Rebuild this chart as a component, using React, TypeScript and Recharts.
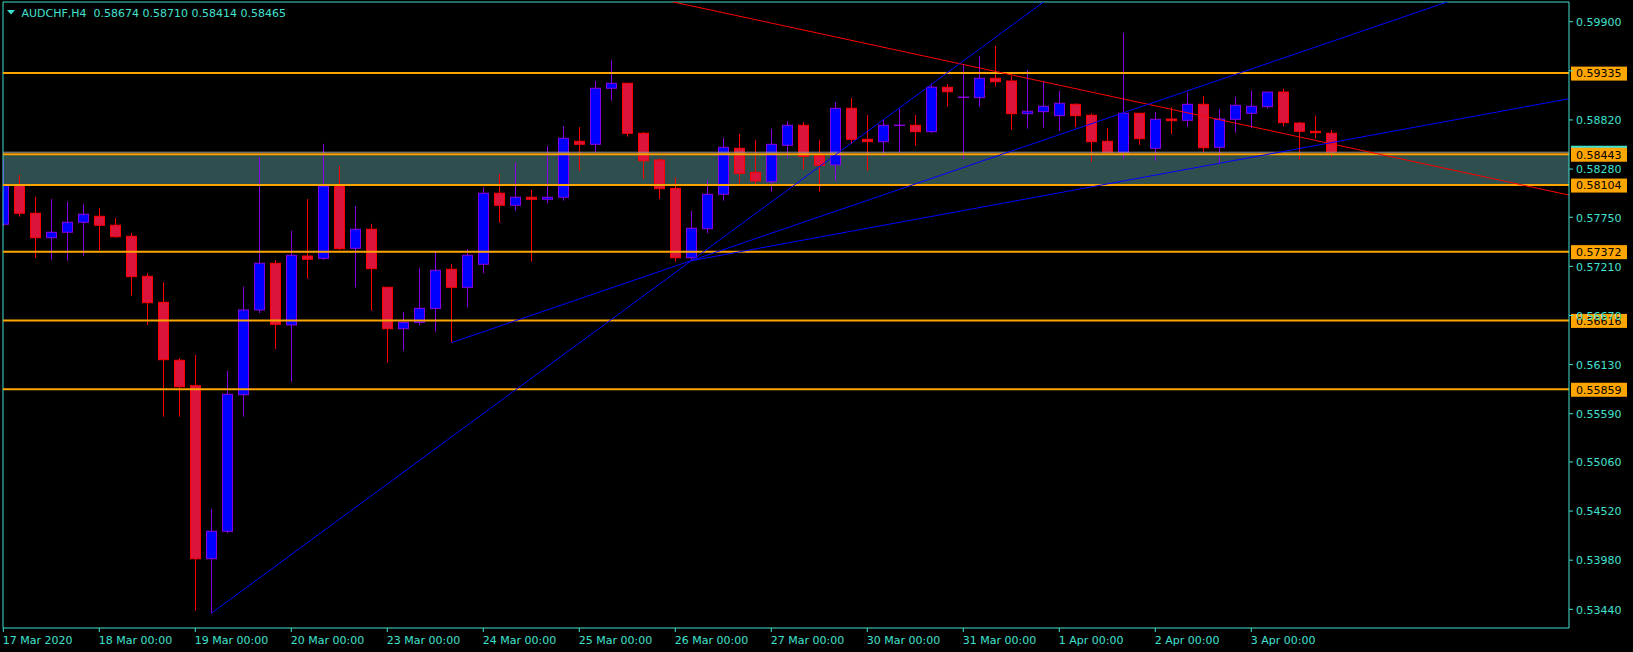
import React from "react";
import {
  ComposedChart,
  Bar,
  XAxis,
  YAxis,
  ReferenceLine,
  ReferenceArea,
} from "recharts";

const CYAN = "#40E0D0";
const ORANGE = "#FFA500";
const FONT = "DejaVu Sans";

// AUDCHF H4, 17 Mar 2020 00:00 .. 3 Apr 2020 20:00 (one entry per bar)
const opens = [
  0.57673, 0.58105, 0.57794, 0.57525, 0.57585, 0.57695, 0.57761, 0.57662, 0.57541, 0.57101,
  0.56815, 0.56178, 0.55898, 0.53996, 0.54298, 0.55799, 0.56731, 0.57244, 0.56566, 0.57324,
  0.57299, 0.58094, 0.57409, 0.57618, 0.5698, 0.56525, 0.56595, 0.56747, 0.57178, 0.5698,
  0.57233, 0.58014, 0.57882, 0.5797, 0.57948, 0.5797, 0.58585, 0.58552, 0.59168, 0.59223,
  0.58673, 0.5838, 0.58068, 0.57305, 0.57624, 0.58003, 0.58508, 0.58244, 0.58141, 0.58541,
  0.58761, 0.58427, 0.58325, 0.58948, 0.58607, 0.58581, 0.58761, 0.58761, 0.58691, 0.59179,
  0.59069, 0.59065, 0.59278, 0.59248, 0.58889, 0.58911, 0.58867, 0.58992, 0.58871, 0.58585,
  0.5846, 0.58893, 0.58508, 0.5883, 0.58816, 0.58992, 0.58519, 0.58827, 0.58893, 0.58966,
  0.59127, 0.58786, 0.58695, 0.58674,
];
const highs = [
  0.58387, 0.58215, 0.57976, 0.57951, 0.57921, 0.57896, 0.57849, 0.57742, 0.57577, 0.57134,
  0.57035, 0.562, 0.56236, 0.54543, 0.5606, 0.56987, 0.58409, 0.5728, 0.57602, 0.57951,
  0.58556, 0.58314, 0.57874, 0.57676, 0.56983, 0.56709, 0.57192, 0.57371, 0.57236, 0.57401,
  0.5808, 0.58226, 0.58354, 0.5805, 0.58534, 0.58753, 0.58742, 0.59248, 0.59479, 0.59226,
  0.58687, 0.58398, 0.58185, 0.57819, 0.5816, 0.58621, 0.58665, 0.58599, 0.5872, 0.58808,
  0.58797, 0.58599, 0.59017, 0.59061, 0.58874, 0.58819, 0.5894, 0.58874, 0.59223, 0.59215,
  0.59424, 0.59523, 0.59633, 0.59303, 0.59369, 0.5924, 0.59138, 0.59003, 0.58893, 0.58731,
  0.59776, 0.58896, 0.58907, 0.58959, 0.59124, 0.59083, 0.5894, 0.59072, 0.59141, 0.59127,
  0.59163, 0.58801, 0.58867, 0.5871,
];
const lows = [
  0.57654, 0.57756, 0.57305, 0.57283, 0.57272, 0.57327, 0.5739, 0.57525, 0.56888, 0.56566,
  0.55557, 0.55557, 0.53425, 0.53396, 0.54276, 0.55557, 0.56694, 0.56302, 0.55942, 0.57075,
  0.5728, 0.5739, 0.5698, 0.56723, 0.56151, 0.56283, 0.5656, 0.56492, 0.56371, 0.5676,
  0.57134, 0.5769, 0.57822, 0.57262, 0.57904, 0.57932, 0.58259, 0.5846, 0.59032, 0.58636,
  0.58171, 0.57951, 0.57262, 0.57272, 0.57574, 0.57932, 0.58123, 0.58101, 0.58031, 0.58398,
  0.58277, 0.58031, 0.58149, 0.58556, 0.58259, 0.58416, 0.5846, 0.58537, 0.58673, 0.58966,
  0.58387, 0.58966, 0.59185, 0.58713, 0.58724, 0.58735, 0.58698, 0.58742, 0.58361, 0.58457,
  0.58391, 0.58545, 0.58372, 0.58665, 0.58742, 0.5846, 0.58347, 0.5868, 0.58728, 0.58944,
  0.58746, 0.58387, 0.58618, 0.58414,
];
const closes = [
  0.58105, 0.57794, 0.57525, 0.57585, 0.57695, 0.57783, 0.57662, 0.57536, 0.57097, 0.56811,
  0.56184, 0.55887, 0.53996, 0.54298, 0.55804, 0.56731, 0.57244, 0.56573, 0.57332, 0.57288,
  0.58094, 0.57404, 0.57618, 0.57185, 0.56525, 0.56595, 0.56749, 0.57167, 0.5698, 0.57332,
  0.58014, 0.57882, 0.5797, 0.57948, 0.5797, 0.58618, 0.58552, 0.59168, 0.59223, 0.58673,
  0.58372, 0.58064, 0.57305, 0.57629, 0.58003, 0.58519, 0.58233, 0.58149, 0.58552, 0.58761,
  0.5842, 0.58321, 0.58948, 0.58607, 0.58581, 0.58761, 0.58761, 0.58691, 0.59179, 0.5913,
  0.59069, 0.59278, 0.5924, 0.58889, 0.58915, 0.5897, 0.59003, 0.58867, 0.58581, 0.5846,
  0.58893, 0.58614, 0.58827, 0.58812, 0.58992, 0.58515, 0.5883, 0.58981, 0.5897, 0.59127,
  0.5879, 0.58695, 0.5868, 0.58465,
];

const dayStarts = [0, 6, 12, 18, 24, 30, 36, 42, 48, 54, 60, 66, 72, 78];
const dayLabels = [
  "17 Mar 2020", "18 Mar 00:00", "19 Mar 00:00", "20 Mar 00:00", "23 Mar 00:00",
  "24 Mar 00:00", "25 Mar 00:00", "26 Mar 00:00", "27 Mar 00:00", "30 Mar 00:00",
  "31 Mar 00:00", "1 Apr 00:00", "2 Apr 00:00", "3 Apr 00:00",
];
const priceTicks = [
  0.599, 0.5936, 0.5882, 0.5828, 0.5775, 0.5721, 0.5667, 0.5613, 0.5559, 0.5506,
  0.5452, 0.5398, 0.5344,
];
const levels = [0.59335, 0.58443, 0.58104, 0.57372, 0.56616, 0.55859];
const zone = [0.58104, 0.58443];
const bid = 0.58465;

// trend lines: [start bar, anchor A (bar, price), anchor B (bar, price)]
const trendLines = [
  { color: "#FF0000", start: 40, a: [50, 0.59809], b: [90, 0.58292] },
  { color: "#0000FF", start: 13, a: [13, 0.53396], b: [43, 0.57272] },
  { color: "#0000FF", start: 28, a: [28, 0.56371], b: [73, 0.59079] },
  { color: "#0000FF", start: 43, a: [43, 0.57272], b: [90, 0.58798] },
];

const X_MIN = -0.01875;
const X_MAX = 97.85625;
const Y_MIN = 0.532344;
const Y_MAX = 0.601166;

const data = opens.map((o, i) => ({
  i,
  o,
  h: highs[i],
  l: lows[i],
  c: closes[i],
  range: [lows[i], highs[i]],
}));

const priceAt = (t: { a: number[]; b: number[] }, x: number) =>
  t.a[1] + ((x - t.a[0]) * (t.b[1] - t.a[1])) / (t.b[0] - t.a[0]);

const Candle = (props: any) => {
  const { x, y, width, height, payload } = props;
  if (payload == null || !isFinite(x) || !isFinite(y)) return null;
  const { o, h, l, c } = payload;
  const cx = Math.round(x + width / 2) + 0.5;
  const k = height / (h - l);
  const py = (p: number) => y + (h - p) * k;
  const bull = c >= o;
  const wick = bull ? "#8A00E6" : "#FF0000";
  const top = py(Math.max(o, c));
  const bot = py(Math.min(o, c));
  return (
    <g>
      <line x1={cx} x2={cx} y1={y} y2={y + height} stroke={wick} strokeWidth={1} />
      {bot - top < 1 ? (
        <line x1={cx - 5.5} x2={cx + 5.5} y1={top} y2={top} stroke={wick} strokeWidth={1.5} />
      ) : (
        <rect
          x={cx - 5}
          y={top}
          width={10}
          height={bot - top}
          fill={bull ? "#0000FF" : "#DC143C"}
          stroke={wick}
          strokeWidth={1}
        />
      )}
    </g>
  );
};

const DateTick = (props: any) => {
  const { x, y, payload } = props;
  const idx = dayStarts.indexOf(payload.value);
  return (
    <text x={x - 0.6} y={y + 12} fill={CYAN} fontFamily={FONT} fontSize={11} textAnchor="start">
      {idx >= 0 ? dayLabels[idx] : ""}
    </text>
  );
};

// price labels that sit under an orange level tag are covered by it in the terminal
const PriceTick = (props: any) => {
  const { x, y, payload } = props;
  const covered = levels.some((v) => Math.abs(v - payload.value) < 0.0005);
  if (covered) return null;
  return (
    <text x={x} y={y + 4.3} fill={CYAN} fontFamily={FONT} fontSize={11} textAnchor="start">
      {payload.value.toFixed(5)}
    </text>
  );
};

const PriceTag = (props: any) => {
  const { viewBox, value, bg, fg } = props;
  if (!viewBox) return null;
  const left = viewBox.x + viewBox.width + 2;
  const yy = viewBox.y;
  return (
    <g>
      <rect x={left} y={yy - 6.5} width={56} height={14} fill={bg} />
      {fg ? (
        <text x={left + 5} y={yy + 4.3} fill={fg} fontFamily={FONT} fontSize={11}>
          {value.toFixed(5)}
        </text>
      ) : null}
    </g>
  );
};

export default function App() {
  return (
    <div
      style={{
        position: "fixed",
        left: 0,
        top: 0,
        width: 1633,
        height: 652,
        background: "#000000",
      }}
    >
      <ComposedChart
        width={1633}
        height={652}
        data={data}
        margin={{ top: 2, left: 3, right: 0, bottom: 0 }}
      >
        <XAxis
          dataKey="i"
          type="number"
          domain={[X_MIN, X_MAX]}
          allowDataOverflow
          ticks={dayStarts}
          height={24}
          axisLine={{ stroke: CYAN }}
          tickLine={{ stroke: CYAN }}
          tickSize={4}
          tickMargin={0}
          tick={<DateTick />}
          interval={0}
        />
        <YAxis
          orientation="right"
          type="number"
          domain={[Y_MIN, Y_MAX]}
          allowDataOverflow
          ticks={priceTicks}
          width={64}
          axisLine={{ stroke: CYAN }}
          tickLine={{ stroke: CYAN }}
          tickSize={4}
          tickMargin={3}
          tick={<PriceTick />}
          interval={0}
        />
        <ReferenceArea
          y1={zone[0]}
          y2={zone[1]}
          x1={X_MIN}
          x2={X_MAX}
          fill="#2F4F4F"
          fillOpacity={1}
          stroke="none"
        />
        <Bar dataKey="range" shape={<Candle />} isAnimationActive={false} />
        <ReferenceLine x={X_MIN} stroke={CYAN} />
        <ReferenceLine y={Y_MAX} stroke={CYAN} />
        <ReferenceLine
          y={bid}
          stroke="#9A9A9A"
          strokeWidth={1}
          label={<PriceTag value={bid} bg={CYAN} />}
        />
        {levels.map((v) => (
          <ReferenceLine
            key={v}
            y={v}
            stroke={ORANGE}
            strokeWidth={2}
            label={<PriceTag value={v} bg={ORANGE} fg="#000000" />}
          />
        ))}
        {trendLines.map((t, k) => (
          <ReferenceLine
            key={k}
            segment={[
              { x: t.start, y: priceAt(t, t.start) },
              { x: X_MAX, y: priceAt(t, X_MAX) },
            ]}
            stroke={t.color}
            strokeWidth={1}
            ifOverflow="hidden"
          />
        ))}
      </ComposedChart>
      <svg
        width={400}
        height={24}
        style={{ position: "absolute", left: 0, top: 0, pointerEvents: "none" }}
      >
        <polygon points="7,10 15,10 11,14.5" fill={CYAN} />
        <text x={21.5} y={16.7} fill={CYAN} fontFamily={FONT} fontSize={11} xmlSpace="preserve">
          {"AUDCHF,H4  0.58674 0.58710 0.58414 0.58465"}
        </text>
      </svg>
    </div>
  );
}
